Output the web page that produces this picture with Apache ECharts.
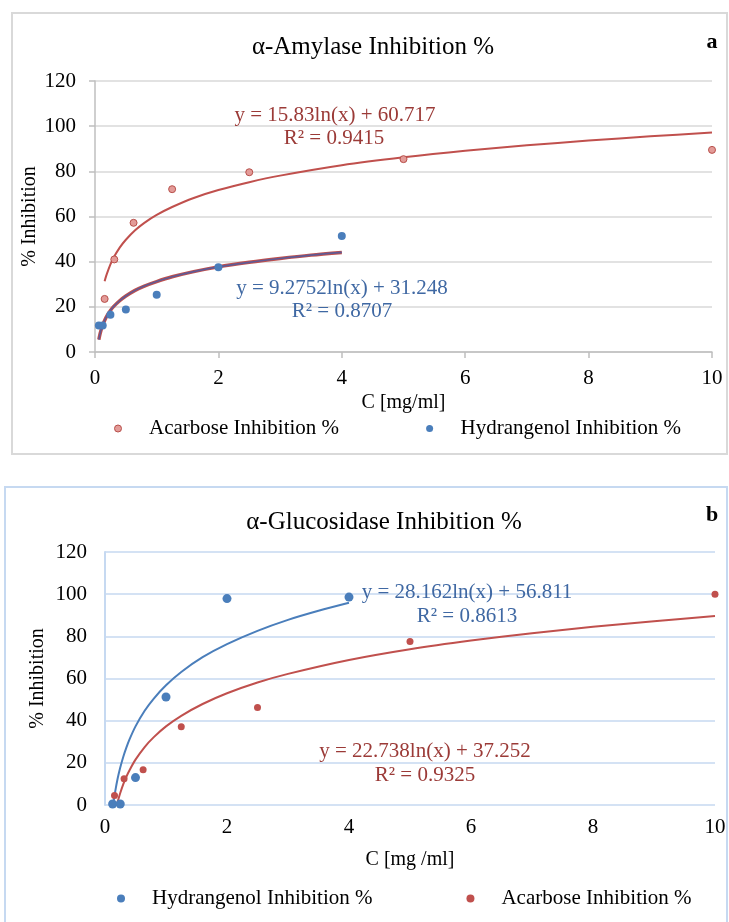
<!DOCTYPE html>
<html>
<head>
<meta charset="utf-8">
<script src="https://cdn.jsdelivr.net/npm/echarts@6/dist/echarts.min.js"></script>
<style>
  html, body { margin: 0; background: #fff; }
  #chart { width: 729px; height: 922px; }
</style>
</head>
<body>
<div id="chart"></div>
<script>
// chart a: alpha-amylase
const amyAcarboseX = [0.156, 0.3125, 0.625, 1.25, 2.5, 5, 10];
const amyAcarboseY = [23.5, 41, 57.2, 72.1, 79.6, 85.4, 89.5];
const amyHydrX = [0.0625, 0.125, 0.25, 0.5, 1, 2, 4];
const amyHydrY = [11.7, 11.7, 16.5, 18.8, 25.3, 37.5, 51.4];
// trend lines
const amyAcarboseTrendX = [0.156, 0.18, 0.22, 0.25, 0.3, 0.4, 0.5, 0.65, 0.8, 1, 1.25, 1.6, 2, 2.5, 3, 4, 5, 6, 7, 8, 9, 10];
const amyAcarboseTrendY = [31.3, 33.6, 36.7, 38.8, 41.7, 46.2, 49.7, 53.9, 57.2, 60.7, 64.2, 68.2, 71.7, 75.2, 78.1, 82.7, 86.2, 89.1, 91.5, 93.6, 95.5, 97.2];
const amyHydrTrendX = [0.0625, 0.08, 0.1, 0.125, 0.156, 0.2, 0.25, 0.3, 0.4, 0.5, 0.65, 0.8, 1, 1.25, 1.6, 2, 2.5, 3, 3.5, 4];
const amyHydrTrendY = [5.5, 7.8, 9.9, 12.0, 14.0, 16.3, 18.4, 20.1, 22.7, 24.8, 27.3, 29.2, 31.2, 33.3, 35.6, 37.7, 39.7, 41.4, 42.9, 44.1];

// chart b: alpha-glucosidase
const gluHydrX = [0.125, 0.25, 0.5, 1, 2, 4];
const gluHydrY = [0.5, 0.5, 13, 51.2, 97.9, 98.6];
const gluAcarboseX = [0.156, 0.3125, 0.625, 1.25, 2.5, 5, 10];
const gluAcarboseY = [4.5, 12.4, 16.7, 37.1, 46.2, 77.6, 100];
const gluHydrTrendX = [0.125, 0.14, 0.156, 0.18, 0.2, 0.22, 0.25, 0.3, 0.35, 0.4, 0.5, 0.65, 0.8, 1, 1.25, 1.6, 2, 2.5, 3, 3.5, 4];
const gluHydrTrendY = [-1.7, 1.4, 4.5, 8.5, 11.5, 14.2, 17.8, 22.9, 27.2, 31.0, 37.3, 44.7, 50.5, 56.8, 63.1, 70.1, 76.3, 82.6, 87.8, 92.1, 95.9];
const gluAcarboseTrendX = [0.156, 0.18, 0.2, 0.22, 0.25, 0.3, 0.35, 0.4, 0.5, 0.65, 0.8, 1, 1.25, 1.6, 2, 2.5, 3, 4, 5, 6, 7, 8, 9, 10];
const gluAcarboseTrendY = [-5.0, -1.7, 0.7, 2.8, 5.7, 9.9, 13.4, 16.4, 21.5, 27.5, 32.2, 37.3, 42.3, 47.9, 53.0, 58.1, 62.2, 68.8, 73.9, 78.0, 81.5, 84.5, 87.2, 89.6];

const xTicks = [0, 2, 4, 6, 8, 10];
const yTicks = [0, 20, 40, 60, 80, 100, 120];

const FONT = '"Liberation Serif", "Times New Roman", serif';
const RED = '#c0504d';
const BLUE = '#4a7ebb';
const RED_TXT = '#9b3a37';
const BLUE_TXT = '#3f68a3';

const zip = (xs, ys) => xs.map((x, i) => [x, ys[i]]);

const chart = echarts.init(document.getElementById('chart'));

const baseLabel = { color: '#000', fontSize: 21, fontFamily: FONT };
const nameStyle = { color: '#000', fontSize: 20, fontFamily: FONT };
const legendText = { color: '#000', fontSize: 21, fontFamily: FONT };

function txt(x, y, text, fill, size, weight) {
  return {
    type: 'text', x: x, y: y, z: 10,
    style: {
      text: text, fill: fill, align: 'center', verticalAlign: 'middle',
      font: (weight || 'normal') + ' ' + size + 'px ' + FONT
    }
  };
}

function trend(xi, data, color, width, z) {
  return {
    type: 'line', xAxisIndex: xi, yAxisIndex: xi, data: data,
    showSymbol: false, smooth: 0.3, silent: true, clip: true,
    lineStyle: { color: color, width: width }, z: z
  };
}

const option = {
  animation: false,
  backgroundColor: '#fff',
  grid: [
    { left: 95, top: 81, width: 617, height: 271 },
    { left: 105, top: 552, width: 610, height: 253 }
  ],
  xAxis: [
    {
      type: 'value', gridIndex: 0, min: xTicks[0], max: xTicks[xTicks.length - 1], interval: 2,
      axisLine: { show: true, lineStyle: { color: '#bfbfbf', width: 1.5 } },
      axisTick: { show: true, length: 6, lineStyle: { color: '#bfbfbf', width: 1.5 } },
      splitLine: { show: false },
      axisLabel: Object.assign({ margin: 16 }, baseLabel),
      name: 'C [mg/ml]', nameLocation: 'middle', nameGap: 41, nameTextStyle: nameStyle
    },
    {
      type: 'value', gridIndex: 1, min: xTicks[0], max: xTicks[xTicks.length - 1], interval: 2,
      axisLine: { show: false },
      axisTick: { show: false },
      splitLine: { show: false },
      axisLabel: Object.assign({ margin: 12 }, baseLabel),
      name: 'C [mg /ml]', nameLocation: 'middle', nameGap: 45, nameTextStyle: nameStyle
    }
  ],
  yAxis: [
    {
      type: 'value', gridIndex: 0, min: yTicks[0], max: yTicks[yTicks.length - 1], interval: 20,
      axisLine: { show: true, lineStyle: { color: '#bfbfbf', width: 1.5 } },
      axisTick: { show: true, length: 6, lineStyle: { color: '#bfbfbf', width: 1.5 } },
      splitLine: { show: true, lineStyle: { color: '#d9d9d9', width: 1.5 } },
      axisLabel: Object.assign({ margin: 19 }, baseLabel),
      name: '% Inhibition', nameLocation: 'middle', nameGap: 55, nameMoveOverlap: false,
      nameTextStyle: nameStyle
    },
    {
      type: 'value', gridIndex: 1, min: yTicks[0], max: yTicks[yTicks.length - 1], interval: 20,
      axisLine: { show: true, lineStyle: { color: '#c6d9f1', width: 2 } },
      axisTick: { show: false },
      splitLine: { show: true, lineStyle: { color: '#c6d9f1', width: 1.5 } },
      axisLabel: Object.assign({ margin: 18 }, baseLabel),
      name: '% Inhibition', nameLocation: 'middle', nameGap: 57, nameMoveOverlap: false,
      nameTextStyle: nameStyle
    }
  ],
  legend: [
    {
      left: 109, top: 413, itemWidth: 52, itemHeight: 7, itemGap: 87, selectedMode: false,
      textStyle: legendText,
      data: [
        { name: 'Acarbose Inhibition %', icon: 'circle', itemStyle: { color: '#e39b98', borderColor: '#b8504b', borderWidth: 1 } },
        { name: 'Hydrangenol Inhibition %', icon: 'circle', itemStyle: { color: BLUE, borderWidth: 0 } }
      ]
    },
    {
      left: 112, top: 883, itemWidth: 52, itemHeight: 8, itemGap: 94, selectedMode: false,
      textStyle: legendText,
      data: [
        { name: 'Hydrangenol Inhibition %', icon: 'circle', itemStyle: { color: BLUE, borderWidth: 0 } },
        { name: 'Acarbose Inhibition %', icon: 'circle', itemStyle: { color: RED, borderWidth: 0 } }
      ]
    }
  ],
  series: [
    // top chart
    trend(0, zip(amyAcarboseTrendX, amyAcarboseTrendY), RED, 2, 3),
    trend(0, zip(amyHydrTrendX, amyHydrTrendY), RED, 3.5, 3),
    trend(0, zip(amyHydrTrendX, amyHydrTrendY), '#5f5a95', 1.6, 4),
    {
      name: 'Acarbose Inhibition %', type: 'scatter', xAxisIndex: 0, yAxisIndex: 0,
      data: zip(amyAcarboseX, amyAcarboseY), symbolSize: 7,
      itemStyle: { color: '#e39b98', borderColor: '#b8504b', borderWidth: 1, opacity: 1 }, z: 5
    },
    {
      name: 'Hydrangenol Inhibition %', type: 'scatter', xAxisIndex: 0, yAxisIndex: 0,
      data: zip(amyHydrX, amyHydrY), symbolSize: 8,
      itemStyle: { color: BLUE, opacity: 1 }, z: 5
    },
    // bottom chart
    trend(1, zip(gluHydrTrendX, gluHydrTrendY), BLUE, 2, 3),
    trend(1, zip(gluAcarboseTrendX, gluAcarboseTrendY), RED, 2, 3),
    {
      name: 'Hydrangenol Inhibition %', type: 'scatter', xAxisIndex: 1, yAxisIndex: 1,
      data: zip(gluHydrX, gluHydrY), symbolSize: 9,
      itemStyle: { color: BLUE, opacity: 1 }, z: 5
    },
    {
      name: 'Acarbose Inhibition %', type: 'scatter', xAxisIndex: 1, yAxisIndex: 1,
      data: zip(gluAcarboseX, gluAcarboseY), symbolSize: 7,
      itemStyle: { color: RED, opacity: 1 }, z: 5
    }
  ],
  graphic: [
    { type: 'rect', shape: { x: 12, y: 13, width: 715, height: 441 }, style: { fill: 'none', stroke: '#d9d9d9', lineWidth: 2 }, z: 0 },
    { type: 'rect', shape: { x: 5, y: 487, width: 722, height: 445 }, style: { fill: 'none', stroke: '#c6d9f1', lineWidth: 2 }, z: 0 },
    txt(373, 47, 'α-Amylase Inhibition %', '#000', 25),
    txt(712, 42, 'a', '#000', 22, 'bold'),
    txt(335, 115, 'y = 15.83ln(x) + 60.717', RED_TXT, 21),
    txt(334, 138, 'R² = 0.9415', RED_TXT, 21),
    txt(342, 288, 'y = 9.2752ln(x) + 31.248', BLUE_TXT, 21),
    txt(342, 311, 'R² = 0.8707', BLUE_TXT, 21),
    txt(384, 522, 'α-Glucosidase Inhibition %', '#000', 25),
    txt(712, 515, 'b', '#000', 22, 'bold'),
    txt(467, 592, 'y = 28.162ln(x) + 56.811', BLUE_TXT, 21),
    txt(467, 616, 'R² = 0.8613', BLUE_TXT, 21),
    txt(425, 751, 'y = 22.738ln(x) + 37.252', RED_TXT, 21),
    txt(425, 775, 'R² = 0.9325', RED_TXT, 21)
  ]
};

chart.setOption(option);
</script>
</body>
</html>
